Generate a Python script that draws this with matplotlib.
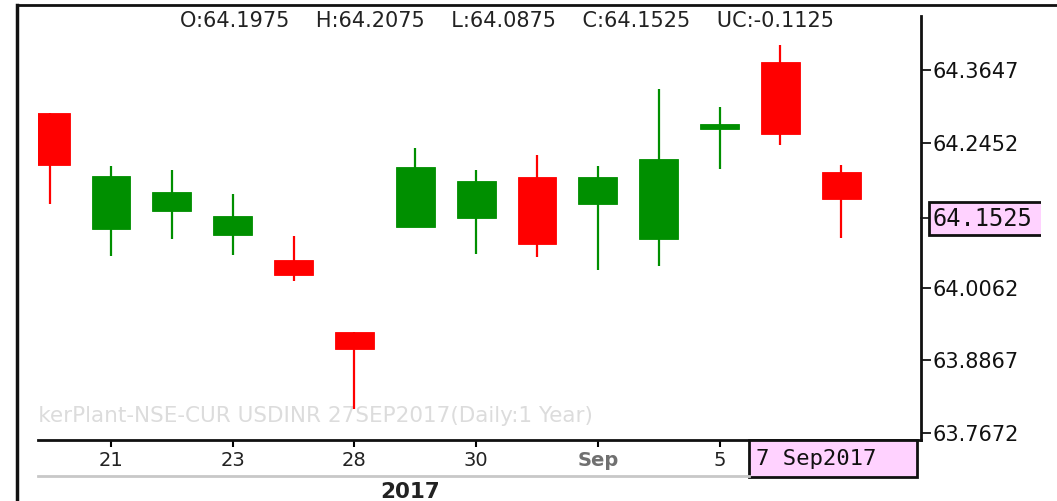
import matplotlib.pyplot as plt
import numpy as np
from matplotlib.lines import Line2D
from matplotlib.patches import Rectangle

W, H = 1057, 501

# daily USDINR 27SEP2017 candles
dates = ["18 Aug", "21 Aug", "22 Aug", "23 Aug", "24 Aug", "28 Aug", "29 Aug",
         "30 Aug", "31 Aug", "1 Sep", "4 Sep", "5 Sep", "6 Sep", "7 Sep"]
opens = [64.2944, 64.1035, 64.1326, 64.0931, 64.0519, 63.9329, 64.1068,
         64.1216, 64.1891, 64.1436, 64.0860, 64.2671, 64.3774, 64.1975]
highs = [64.2944, 64.2072, 64.2001, 64.1606, 64.0919, 63.9329, 64.2368,
         64.2001, 64.2248, 64.2072, 64.3334, 64.3043, 64.4059, 64.2075]
lows = [64.1436, 64.0585, 64.0860, 64.0602, 64.0168, 63.8072, 64.1068,
        64.0618, 64.0574, 64.0355, 64.0426, 64.2017, 64.2412, 64.0875]
closes = [64.2083, 64.1897, 64.1644, 64.1244, 64.0278, 63.9049, 64.2045,
          64.1825, 64.0783, 64.1891, 64.2182, 64.2758, 64.2589, 64.1525]

price_ticks = [64.3647, 64.2452, 64.0062, 63.8867, 63.7672]
date_tick_idx = [1, 3, 5, 7, 9, 11]
date_tick_labels = ["21", "23", "28", "30", "Sep", "5"]

header = "O:64.1975    H:64.2075    L:64.0875    C:64.1525    UC:-0.1125"
watermark = "TickerPlant-NSE-CUR USDINR 27SEP2017(Daily:1 Year)"
last_price = "64.1525"
last_date = "7 Sep2017"
year_label = "2017"

RED = "#ff0000"
GREEN = "#008f00"


def fx(px):
    return px / W


def fy(py):
    return 1 - py / H


plt.rcParams["font.family"] = ["DejaVu Sans"]
fig = plt.figure(figsize=(W / 100, H / 100), dpi=100)
ax = fig.add_axes([fx(38), fy(440), fx(921) - fx(38), fy(16) - fy(440)])

x = np.arange(len(dates))
o, h, l, c = map(np.array, (opens, highs, lows, closes))
colors = np.where(c >= o, GREEN, RED)

ax.vlines(x, l, h, colors=colors, lw=1.6, zorder=2)
ax.bar(x, np.abs(c - o), bottom=np.minimum(o, c), width=0.64,
       color=colors, edgecolor=colors, lw=0.6, zorder=3)

ax.set_xlim(-0.2, 14.31)
ax.set_ylim(63.7556, 64.4536)

for side in ("top", "left"):
    ax.spines[side].set_visible(False)
for side in ("right", "bottom"):
    ax.spines[side].set_linewidth(2)
    ax.spines[side].set_color("#111111")

ax.yaxis.tick_right()
ax.set_yticks(price_ticks)
ax.set_yticklabels([f"{v:.4f}" for v in price_ticks])
ax.tick_params(axis="y", length=7, width=1.2, pad=1, labelsize=15,
               labelcolor="#111111")

ax.set_xticks(date_tick_idx)
ax.set_xticklabels(date_tick_labels)
ax.tick_params(axis="x", length=5, width=1.5, pad=3, labelsize=14,
               labelcolor="#222222")
for lab in ax.get_xticklabels():
    if lab.get_text() == "Sep":
        lab.set_fontweight("bold")
        lab.set_color("#707070")

# watermark, clipped by the plot area like in the original
ax.text(-0.034, fy(412) - fy(440), watermark, transform=ax.transAxes,
        fontsize=15.5, color="#dcdcdc", va="center", ha="left",
        clip_on=True, zorder=1)
ax.patch.set_alpha(0)

# header with last bar values
fig.text(fx(507), fy(21), header, fontsize=15, color="#222222",
         ha="center", va="center")

# outer frame
fig.add_artist(Line2D([fx(17), 1], [fy(5), fy(5)], color="#111111", lw=2))
fig.add_artist(Line2D([fx(17), fx(17)], [fy(5), 0], color="#111111", lw=2.5))

# light separator under date labels
fig.add_artist(Line2D([fx(38), fx(749)], [fy(476), fy(476)],
                      color="#c8c8c8", lw=2))
fig.text(fx(410), fy(482), year_label, fontsize=15.5, fontweight="bold",
         color="#222222", ha="center", va="top")

# last date box
fig.add_artist(Rectangle((fx(749), fy(477)), fx(917) - fx(749), fy(440) - fy(477),
                         facecolor="#ffd2ff", edgecolor="#111111", lw=2,
                         transform=fig.transFigure))
fig.text(fx(756), fy(459), last_date, fontsize=16, family="DejaVu Sans Mono",
         color="#111111", ha="left", va="center")

# last price box on the price axis
fig.add_artist(Rectangle((fx(929), fy(235)), fx(1060) - fx(929), fy(202) - fy(235),
                         facecolor="#ffd2ff", edgecolor="#111111", lw=2,
                         transform=fig.transFigure))
fig.add_artist(Line2D([fx(921), fx(929)], [fy(218), fy(218)], color="#111111", lw=1.2))
fig.text(fx(932), fy(219), last_price, fontsize=17, family="DejaVu Sans Mono",
         color="#111111", ha="left", va="center")
fig.add_artist(Rectangle((fx(1041), 0), 1 - fx(1041), 1, facecolor="white",
                         edgecolor="none", transform=fig.transFigure))

fig.savefig("out.png", dpi=100)
